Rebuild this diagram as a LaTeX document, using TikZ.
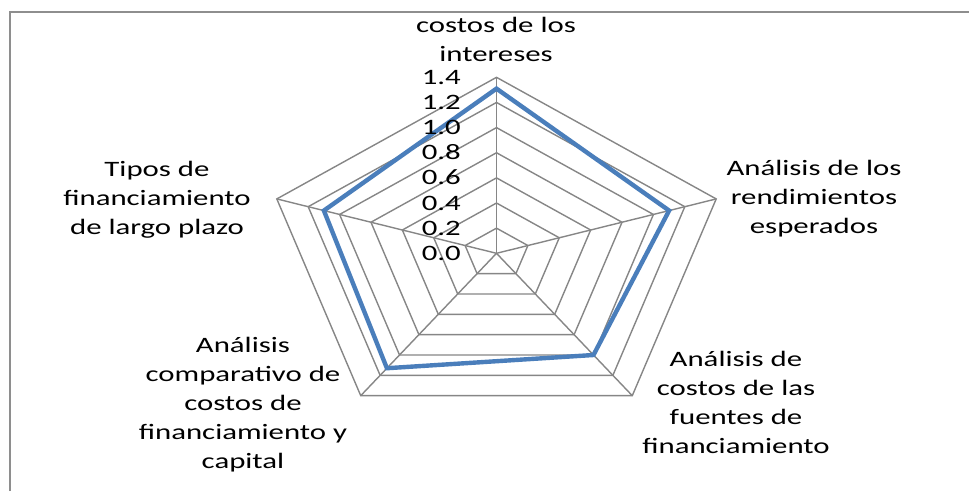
\documentclass[tikz,border=0pt]{standalone}
\usepackage{fontspec}
\setmainfont{Carlito}[FakeStretch=1.4]
\definecolor{gridgray}{HTML}{868686}
\definecolor{framegray}{HTML}{8E8E8E}
\definecolor{seriesblue}{HTML}{4A7EBB}
\begin{document}
\begin{tikzpicture}[x=1pt,y=-1pt,
  gridline/.style={draw=gridgray, line width=1.4pt},
  frameline/.style={draw=framegray, line width=2pt},
  series/.style={draw=seriesblue, line width=4.4pt, line join=miter},
  txt/.style={font=\fontsize{22}{29}\selectfont, text=black},
  cat/.style={txt, align=center, inner sep=0pt, anchor=north},
  tick/.style={txt, anchor=mid east, inner sep=0pt}]
\useasboundingbox (0,0) rectangle (969,491);
\coordinate (fbl) at (10,491);
\coordinate (ftl) at (10,12);
\coordinate (ftr) at (969,12);
\draw[frameline] (fbl) -- (ftl) -- (ftr);
\begin{scope}[shift={(496.5,253.3)}, x=165pt, y=125.7pt]
  \coordinate (O) at (0,0);
  \foreach \a [count=\i] in {90,18,-54,-126,162} {
    \coordinate (v\i) at (\a:1.4);
  }
  \foreach \k in {1,...,7} {
    \pgfmathsetmacro{\r}{0.2*\k}
    \draw[gridline] (90:\r) -- (18:\r) -- (-54:\r) -- (-126:\r) -- (162:\r) -- cycle;
  }
  \foreach \i in {1,...,5} {
    \draw[gridline] (O) -- (v\i);
  }
  \coordinate (d1) at (90:1.31);
  \coordinate (d2) at (18:1.1);
  \coordinate (d3) at (-54:1.0);
  \coordinate (d4) at (-126:1.13);
  \coordinate (d5) at (162:1.1);
  \draw[series] (d1) -- (d2) -- (d3) -- (d4) -- (d5) -- cycle;
\end{scope}
\foreach \k/\lab in {0/0.0,1/0.2,2/0.4,3/0.6,4/0.8,5/1.0,6/1.2,7/1.4} {
  \node[tick] (t\k) at (461, {257.9-25.14*\k}) {\lab};
}
\node[cat] (ctop) at (496, 12.2) {\strut costos de los\\intereses};
\node[cat] (cright) at (814, 154.5) {\strut Análisis de los\\rendimientos\\esperados};
\node[cat] (cbr) at (736, 345.6) {\strut Análisis de\\costos de las\\fuentes de\\financiamiento};
\node[cat] (cbl) at (243, 331.6) {\strut Análisis\\comparativo de\\costos de\\financiamiento y\\capital};
\node[cat] (cleft) at (157, 155.8) {\strut Tipos de\\financiamiento\\de largo plazo};
\end{tikzpicture}
\end{document}
